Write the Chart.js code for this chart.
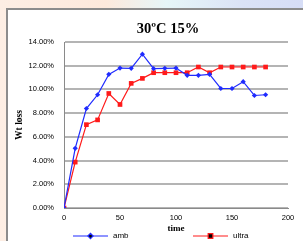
<!DOCTYPE html>
<html>
<head>
<meta charset="utf-8">
<script src="https://cdn.jsdelivr.net/npm/chart.js@4/dist/chart.umd.min.js"></script>
<style>
  html, body { margin: 0; padding: 0; }
  body {
    width: 303px; height: 241px; overflow: hidden; position: relative;
    background: linear-gradient(90deg, #fdeee4 0%, #fde9dc 35%, #e6f6f8 55%, #dbe2f6 80%, #d6ddf6 100%);
  }
  #frame {
    position: absolute; left: 6px; top: 8px; width: 400px; height: 400px;
    background: #fff; border: 2px solid #8c8c8c;
  }
  #wrap { position: absolute; left: 0; top: 0; width: 303px; height: 241px; }
</style>
</head>
<body>
<div id="frame"></div>
<div id="wrap"><canvas id="myChart" width="303" height="241"></canvas></div>
<script>
// time axis (x) and the two series, wt loss as fractions
var times = [0, 10, 20, 30, 40, 50, 60, 70, 80, 90, 100, 110, 120, 130, 140, 150, 160, 170, 180]
var amb   = [0, 0.0503, 0.0839, 0.0955, 0.1127, 0.1180, 0.1178, 0.1297, 0.1175, 0.1178, 0.1180, 0.1119, 0.1119, 0.1127, 0.1008, 0.1008, 0.1065, 0.0949, 0.0955]
var ultra = [0, 0.0387, 0.0703, 0.0743, 0.0966, 0.0873, 0.1051, 0.1093, 0.1141, 0.1141, 0.1141, 0.1141, 0.1189, 0.1141, 0.1189, 0.1189, 0.1189, 0.1189, 0.1189]
var xTicks = [0, 50, 100, 150, 200]
var yTicks = [0, 0.02, 0.04, 0.06, 0.08, 0.10, 0.12, 0.14]
var chartTitle = '30ºC 15%'

var sans = "'Liberation Sans', Arial, sans-serif"
var serif = "'Liberation Serif', 'Times New Roman', serif"

var pts = (ys) => times.map((t, i) => ({x: t, y: ys[i]}))

// title centred over the plot area (excel does that, chart.js centres on the canvas)
var titlePlugin = {
    id: 'plotTitle',
    afterDraw: function(chart) {
        var ctx = chart.ctx, a = chart.chartArea
        ctx.save()
        ctx.fillStyle = '#000'
        ctx.font = 'bold 14.5px ' + serif
        ctx.textAlign = 'center'
        ctx.textBaseline = 'middle'
        ctx.fillText(chartTitle, (a.left + a.right) / 2 - 8, 29)
        ctx.restore()
    }
}

// excel-ish legend: a short line with the marker in the middle
var legendPlugin = {
    id: 'lineLegend',
    afterDraw: function(chart) {
        var ctx = chart.ctx
        var spots = [{x: 73, text: 113}, {x: 193, text: 233}]
        var y = 236
        chart.data.datasets.forEach(function(ds, i) {
            var s = spots[i]
            ctx.save()
            ctx.strokeStyle = ds.borderColor
            ctx.lineWidth = 1.2
            ctx.beginPath()
            ctx.moveTo(s.x, y)
            ctx.lineTo(s.x + 35, y)
            ctx.stroke()
            Chart.helpers.drawPoint(ctx, {pointStyle: ds.pointStyle, radius: ds.pointRadius, borderWidth: 1}, s.x + 17.5, y)
            ctx.fillStyle = '#000'
            ctx.font = '8px ' + sans
            ctx.textBaseline = 'middle'
            ctx.fillText(ds.label, s.text, y)
            ctx.restore()
        })
    }
}

var ctx = document.getElementById('myChart')
var myChart = new Chart(ctx, {
    type: 'line',
    data: {
        datasets: [{
            label: 'amb',
            data: pts(amb),
            borderColor: '#1f2bff',
            backgroundColor: '#1f2bff',
            borderWidth: 1.2,
            pointStyle: 'rectRot',
            pointRadius: 2.6,
            pointBorderWidth: 0,
            tension: 0
        }, {
            label: 'ultra',
            data: pts(ultra),
            borderColor: '#ff1a1a',
            backgroundColor: '#ff1a1a',
            borderWidth: 1.2,
            pointStyle: 'rect',
            pointRadius: 3.3,
            pointBorderWidth: 0,
            tension: 0
        }]
    },
    options: {
        responsive: false,
        animation: false,
        layout: { padding: { left: 0, right: 15, top: 42, bottom: 0 } },
        plugins: {
            legend: { display: false },
            tooltip: { enabled: false },
            title: { display: false }
        },
        scales: {
            x: {
                type: 'linear',
                min: 0, max: 200,
                afterFit: function(s) { s.height = 33 },
                afterBuildTicks: function(s) { s.ticks = xTicks.map(v => ({value: v})) },
                grid: { display: false, drawTicks: false },
                border: { display: true, color: '#8a8a8a', width: 1 },
                ticks: { color: '#000', font: { family: sans, size: 7.5 }, padding: 5, maxRotation: 0 },
                title: {
                    display: true, text: 'time', color: '#000',
                    font: { family: serif, size: 9, weight: 'bold', lineHeight: 1.2 },
                    padding: { top: 0, bottom: 7 }
                }
            },
            y: {
                min: 0, max: 0.14,
                afterFit: function(s) { s.width = 64 },
                afterBuildTicks: function(s) { s.ticks = yTicks.map(v => ({value: v})) },
                grid: { color: '#b4b4b4', lineWidth: 2, drawTicks: false },
                border: { display: true, color: '#8a8a8a', width: 1 },
                ticks: {
                    color: '#000', font: { family: sans, size: 7.5 }, padding: 10,
                    callback: v => (v * 100).toFixed(2) + '%'
                },
                title: {
                    display: true, text: 'Wt loss', color: '#000',
                    font: { family: serif, size: 9.5, weight: 'bold', lineHeight: 1.2 },
                    padding: { top: 14.3, bottom: 0 }
                }
            }
        }
    },
    plugins: [titlePlugin, legendPlugin]
})
</script>
</body>
</html>
